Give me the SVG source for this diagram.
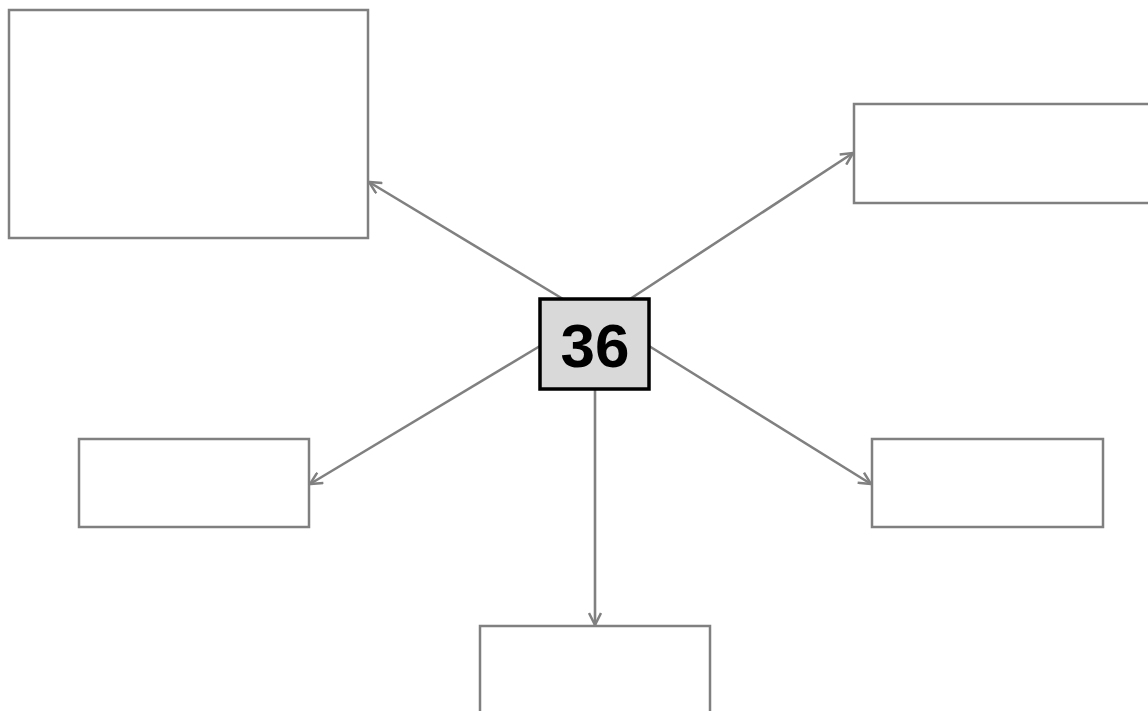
<svg xmlns="http://www.w3.org/2000/svg" width="1148" height="711" viewBox="0 0 1148 711">
<style>
.box{fill:#fff;stroke:#808080;stroke-width:2.5}
.con{stroke:#808080;stroke-width:2.6;fill:none;marker-end:url(#arr)}
.center{fill:#d9d9d9;stroke:#000;stroke-width:3.5}
.lbl{font-family:"Liberation Sans",Arial,sans-serif;font-weight:bold;font-size:62px;fill:#000}
</style>
<defs>
<marker id="arr" viewBox="0 0 14 14" refX="13" refY="7" markerWidth="14" markerHeight="14" markerUnits="userSpaceOnUse" orient="auto">
<path d="M1,1 L13,7 L1,13" fill="none" stroke="#808080" stroke-width="2.5"/>
</marker>
</defs>
<rect width="1148" height="711" fill="#fff"/>
<g id="connectors">
<line class="con" x1="563" y1="299" x2="369" y2="182"/>
<line class="con" x1="630" y1="299" x2="853" y2="153"/>
<line class="con" x1="540" y1="346" x2="310" y2="484"/>
<line class="con" x1="649" y1="346" x2="871" y2="484"/>
<line class="con" x1="595" y1="389" x2="595" y2="625"/>
</g>
<g id="node-topleft"><rect class="box" x="9" y="10" width="359" height="228"/></g>
<g id="node-topright"><rect class="box" x="854" y="104" width="300" height="99"/></g>
<g id="node-left"><rect class="box" x="79" y="439" width="230" height="88"/></g>
<g id="node-right"><rect class="box" x="872" y="439" width="231" height="88"/></g>
<g id="node-bottom"><rect class="box" x="480" y="626" width="230" height="100"/></g>
<g id="node-center"><rect class="center" x="540" y="299" width="109" height="90"/><text class="lbl" x="595" y="367" text-anchor="middle">36</text></g>
</svg>
